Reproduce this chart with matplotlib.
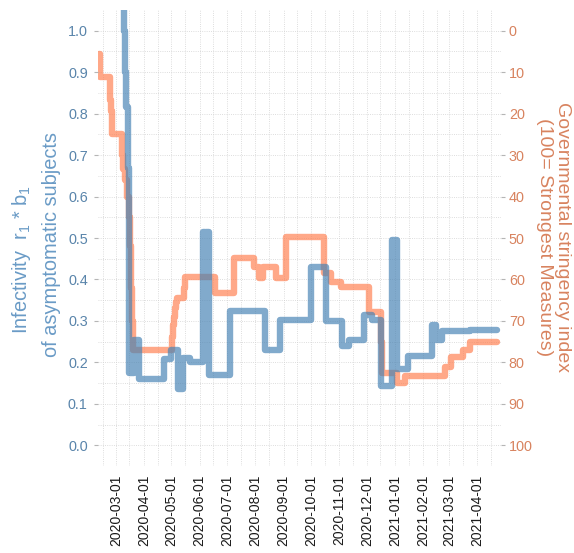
import matplotlib
matplotlib.use("Agg")
import matplotlib.pyplot as plt
import matplotlib.dates as mdates
from matplotlib.ticker import FixedLocator, FormatStrFormatter
import numpy as np
import pandas as pd

plt.rcParams['font.family'] = ['Liberation Sans', 'DejaVu Sans']
plt.rcParams['mathtext.fontset'] = 'custom'
plt.rcParams['mathtext.rm'] = 'Liberation Sans'
plt.rcParams['mathtext.it'] = 'Liberation Sans'

# Governmental stringency index (value holds from each date until the next)
stringency_dates = [
    "2020-02-12", "2020-02-13", "2020-02-24", "2020-02-25", "2020-02-26",
    "2020-03-08", "2020-03-09", "2020-03-11", "2020-03-13", "2020-03-15",
    "2020-03-17", "2020-03-18", "2020-03-19", "2020-03-20",
    "2020-05-02", "2020-05-03", "2020-05-04", "2020-05-05", "2020-05-06",
    "2020-05-07", "2020-05-15", "2020-05-16", "2020-06-18", "2020-07-08",
    "2020-07-09", "2020-07-30", "2020-08-05", "2020-08-09", "2020-08-24",
    "2020-09-03", "2020-09-04", "2020-10-15", "2020-10-23", "2020-11-03",
    "2020-12-03", "2020-12-17", "2020-12-18", "2021-01-03", "2021-01-12",
    "2021-02-25", "2021-03-03", "2021-03-16", "2021-03-24", "2021-04-23",
]
stringency_values = [
    5.6, 11.1, 16.7, 19.4, 25.0,
    30.0, 33.3, 36.0, 40.0, 45.0,
    52.0, 62.0, 70.0, 77.0,
    74.0, 71.0, 69.0, 67.0, 65.5,
    64.4, 62.0, 59.4, 63.3, 58.0,
    54.8, 57.0, 59.6, 57.0, 59.6,
    55.0, 49.7, 58.5, 60.6, 61.8,
    67.8, 75.0, 82.5, 85.0, 83.4,
    81.0, 78.6, 77.0, 75.0, 75.0,
]

# Infectivity r1 * b1 of asymptomatic subjects
infectivity_dates = [
    "2020-03-06", "2020-03-09", "2020-03-10", "2020-03-11", "2020-03-12",
    "2020-03-14", "2020-03-15", "2020-03-21", "2020-03-27", "2020-04-23",
    "2020-04-30", "2020-05-08", "2020-05-14", "2020-05-21", "2020-06-05",
    "2020-06-07", "2020-06-08", "2020-06-11", "2020-07-04", "2020-08-11",
    "2020-08-28", "2020-10-01", "2020-10-17", "2020-11-04", "2020-11-11",
    "2020-11-28", "2020-12-07", "2020-12-17", "2020-12-29", "2020-12-31",
    "2021-01-01", "2021-01-03", "2021-01-15", "2021-02-10", "2021-02-15",
    "2021-02-21", "2021-03-24", "2021-04-23",
]
infectivity_values = [
    1.25, 1.08, 1.00, 0.90, 0.815,
    0.67, 0.175, 0.255, 0.16, 0.207,
    0.23, 0.135, 0.21, 0.20, 0.515,
    0.30, 0.515, 0.17, 0.323, 0.231,
    0.303, 0.431, 0.30, 0.239, 0.255,
    0.315, 0.303, 0.143, 0.495, 0.30,
    0.495, 0.183, 0.215, 0.29, 0.255,
    0.275, 0.279, 0.279,
]

month_ticks = pd.date_range("2020-03-01", "2021-04-01", freq="MS")
left_ticks = np.round(np.arange(0, 1.01, 0.1), 1)
right_ticks = np.arange(0, 101, 10)

W, H = 574, 553
fig = plt.figure(figsize=(W / 100, H / 100), dpi=100)
px_l, px_r, px_t, px_b = 97.5, 500.5, 10, 466
ax = fig.add_axes([px_l / W, 1 - px_b / H, (px_r - px_l) / W, (px_b - px_t) / H])
ax2 = ax.twinx()

# left axes (infectivity) drawn above right axes (stringency)
ax.set_zorder(2)
ax2.set_zorder(1)
ax.patch.set_visible(False)

blue = "#4682B4"
orange = "#FF7F50"

ax2.plot(pd.to_datetime(stringency_dates), stringency_values, drawstyle="steps-post",
         color=orange, alpha=0.68, lw=4.6, solid_capstyle="round", solid_joinstyle="round")
ax.plot(pd.to_datetime(infectivity_dates), infectivity_values, drawstyle="steps-post",
        color=blue, alpha=0.68, lw=4.6, solid_capstyle="round", solid_joinstyle="round")

ax.set_xlim(pd.Timestamp("2020-02-10"), pd.Timestamp("2021-04-26 12:00"))
ax.set_ylim(-0.05, 1.05)
ax2.set_ylim(105, -5)

# ticks
ax.xaxis.set_major_locator(FixedLocator(mdates.date2num(month_ticks)))
ax.xaxis.set_minor_locator(mdates.DayLocator(bymonthday=16))
ax.xaxis.set_major_formatter(mdates.DateFormatter("%Y-%m-%d"))
ax.tick_params(axis="x", which="both", length=0, pad=6.5, labelsize=10,
               labelcolor="#1a1a1a", labelrotation=90)

ax.set_yticks(left_ticks)
ax.yaxis.set_major_formatter(FormatStrFormatter("%.1f"))
ax.tick_params(axis="y", length=3, width=0.8, color="#b5b5b5", pad=4,
               labelsize=10.4, labelcolor="#5a85ab")

ax2.set_yticks(right_ticks)
ax2.yaxis.set_minor_locator(FixedLocator(np.arange(5, 100, 10)))
ax2.tick_params(axis="y", which="major", length=3, width=0.8, color="#b5b5b5", pad=3,
                labelsize=10.4, labelcolor="#d8835f")
ax2.tick_params(axis="y", which="minor", length=0)

# dotted grid drawn on the lower axes so the lines sit on top of it
ax2.xaxis.set_visible(True)
ax2.tick_params(axis="x", which="both", bottom=False, top=False,
                labelbottom=False, labeltop=False)
ax2.grid(True, which="both", axis="both", color="#d2d2d2", lw=0.6, ls=":")
ax.grid(False)

for a in (ax, ax2):
    for s in a.spines.values():
        s.set_visible(False)

# axis titles
fig.text(21.5 / W, 1 - 260 / H, r"Infectivity  $\mathregular{r_1}$ * $\mathregular{b_1}$",
         rotation=90, ha="center", va="center", fontsize=14.4, color="#6a9bc6")
fig.text(52 / W, 1 - 245 / H, "of asymptomatic subjects",
         rotation=90, ha="center", va="center", fontsize=14.4, color="#6a9bc6")
fig.text(562 / W, 1 - 237.5 / H, "Governmental stringency index",
         rotation=270, ha="center", va="center", fontsize=14, color="#d8835f")
fig.text(544 / W, 1 - 237.5 / H, "(100= Strongest Measures)",
         rotation=270, ha="center", va="center", fontsize=14, color="#d8835f")

fig.savefig("out.png", dpi=100, facecolor="white")
